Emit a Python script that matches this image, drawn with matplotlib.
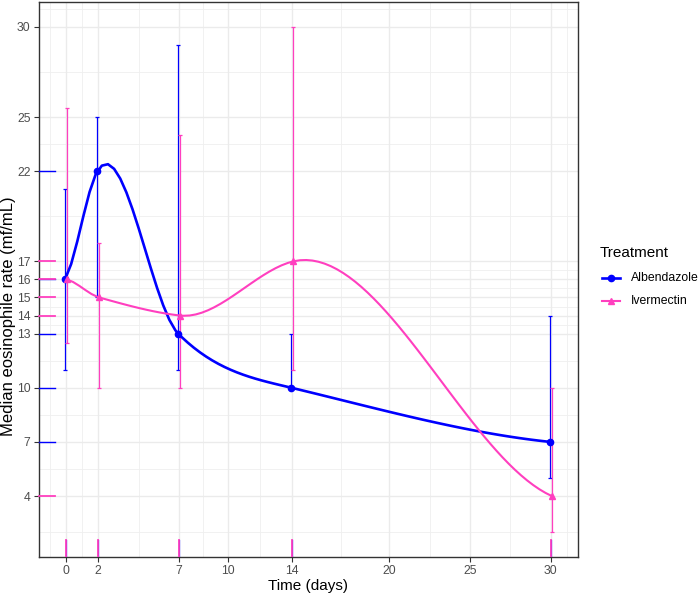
import numpy as np
import matplotlib
matplotlib.use("Agg")
import matplotlib.pyplot as plt
from matplotlib.lines import Line2D

plt.rcParams['font.family'] = ['Liberation Sans', 'DejaVu Sans']

# ---- data ----
days = [0, 2, 7, 14, 30]
alb_median = [16, 22, 13, 10, 7]
alb_low = [11, 15, 11, 10, 5]
alb_high = [21, 25, 29, 13, 14]
iver_median = [16, 15, 14, 17, 4]
iver_low = [12.5, 10, 10, 11, 2]
iver_high = [25.5, 18, 24, 30, 10]
treatments = ["Albendazole", "Ivermectin"]

x_ticks = [0, 2, 7, 10, 14, 20, 25, 30]
y_ticks = [4, 7, 10, 13, 14, 15, 16, 17, 22, 25, 30]
x_minor = [-1, 1, 4.5, 8.5, 12, 17, 22.5, 27.5, 31]
y_minor = [2, 5.5, 8.5, 11.5, 13.5, 14.5, 15.5, 16.5, 19.5, 23.5, 27.5, 31]

BLUE = "#0000FF"
PINK = "#FF3FBF"


def loess_fit_at(x, y, v, span=0.75):
    """Local quadratic (tricube-weighted) fit at v; returns value and slope."""
    n = len(x)
    q = int(np.floor(n * span))
    d = np.abs(x - v)
    rho = np.sort(d)[q - 1]
    w = np.where(d < rho, (1 - (d / rho) ** 3) ** 3, 0.0)
    sw = np.sqrt(w)
    dx = x - v
    X = np.column_stack([np.ones(n), dx, dx ** 2]) * sw[:, None]
    b = y * sw
    nrm = np.sqrt((X ** 2).sum(axis=0))
    nrm[nrm == 0] = 1.0
    s = np.linalg.pinv(X / nrm, rcond=1e-8) @ b
    coef = s / nrm
    return coef[0], coef[1]


def loess_curve(x, y, n_out=80, span=0.75):
    x = np.asarray(x, float)
    y = np.asarray(y, float)
    mu = 0.005 * (x.max() - x.min())
    verts = np.concatenate([[x.min() - mu], np.unique(x), [x.max() + mu]])
    vals, slopes = zip(*[loess_fit_at(x, y, v, span) for v in verts])
    vals = np.array(vals)
    slopes = np.array(slopes)
    xs = np.linspace(x.min(), x.max(), n_out)
    idx = np.clip(np.searchsorted(verts, xs, side="right") - 1, 0, len(verts) - 2)
    h = verts[idx + 1] - verts[idx]
    t = (xs - verts[idx]) / h
    h00 = 2 * t ** 3 - 3 * t ** 2 + 1
    h10 = t ** 3 - 2 * t ** 2 + t
    h01 = -2 * t ** 3 + 3 * t ** 2
    h11 = t ** 3 - t ** 2
    ys = (h00 * vals[idx] + h10 * h * slopes[idx] + h01 * vals[idx + 1]
          + h11 * h * slopes[idx + 1])
    return xs, ys


fig = plt.figure(figsize=(7.0, 5.97), dpi=100)
L, R, T, B = 39, 577.7, 1.7, 557
ax = fig.add_axes([L / 700, 1 - B / 597, (R - L) / 700, (B - T) / 597])

ax.set_xlim(-1.67, 31.67)
ax.set_ylim(0.62, 31.39)

# grid
for v in x_minor:
    ax.axvline(v, color="#EFEFEF", lw=0.6, zorder=0)
for v in y_minor:
    ax.axhline(v, color="#EFEFEF", lw=0.6, zorder=0)
for v in x_ticks:
    ax.axvline(v, color="#EBEBEB", lw=1.0, zorder=0)
for v in y_ticks:
    ax.axhline(v, color="#EBEBEB", lw=1.0, zorder=0)

dodge = 0.06
series = [
    (alb_median, alb_low, alb_high, BLUE, "o", -dodge, 1.9, 4.5),
    (iver_median, iver_low, iver_high, PINK, "^", dodge, 1.5, 4.5),
]
for med, lo, hi, col, mk, off, lw, ms in series:
    xd = np.array(days, float) + off
    xs, ys = loess_curve(np.array(days, float), med)
    ax.plot(xs + off, ys, color=col, lw=lw, zorder=3, solid_joinstyle="round")
    yerr = [np.array(med) - np.array(lo), np.array(hi) - np.array(med)]
    ax.errorbar(xd, med, yerr=yerr, fmt="none", ecolor=col, elinewidth=0.9,
                capsize=1.3, capthick=0.9, zorder=2)
    ax.plot(xd, med, linestyle="none", marker=mk, color=col, ms=ms, zorder=4)

# rugs
for med, col, lw in [(alb_median, BLUE, 1.0), (iver_median, PINK, 1.3)]:
    for v in med:
        ax.plot([0, 0.03], [v, v], transform=ax.get_yaxis_transform(), color=col, lw=lw,
                clip_on=False, zorder=5)
for col, lw in [(BLUE, 0.9), (PINK, 1.3)]:
    for d in days:
        ax.plot([d, d], [0, 0.03], transform=ax.get_xaxis_transform(), color=col, lw=lw,
                zorder=5)

ax.set_xticks(x_ticks)
ax.set_yticks(y_ticks)
ax.set_xticklabels([str(v) for v in x_ticks])
ax.set_yticklabels([str(v) for v in y_ticks])
ax.tick_params(axis="both", colors="#333333", labelcolor="#4D4D4D", labelsize=8.8,
               length=3.5, width=0.8, pad=2.5)
for s in ax.spines.values():
    s.set_color("#333333")
    s.set_linewidth(1.0)

fig.text((L + R) / 2 / 700, 1 - 586 / 597, "Time (days)", fontsize=11,
         ha="center", va="center")
fig.text(9 / 700, 1 - 316 / 597, "Median eosinophile rate (mf/mL)", fontsize=12,
         ha="center", va="center", rotation=90)

# legend (drawn manually)
fig.text(600 / 700, 1 - 253 / 597, "Treatment", fontsize=11, ha="left", va="center")
for (lab, col, mk, lw), yy in zip([(treatments[0], BLUE, "o", 1.9),
                                   (treatments[1], PINK, "^", 1.5)], [278, 301]):
    fy = 1 - yy / 597
    fig.add_artist(Line2D([602 / 700, 620 / 700], [fy, fy], color=col, lw=lw,
                          transform=fig.transFigure))
    fig.add_artist(Line2D([611 / 700], [fy], color=col, marker=mk, ms=4.5,
                          transform=fig.transFigure))
    fig.text(631 / 700, fy, lab, fontsize=8.8, ha="left", va="center")

fig.savefig("out.png", dpi=100)
